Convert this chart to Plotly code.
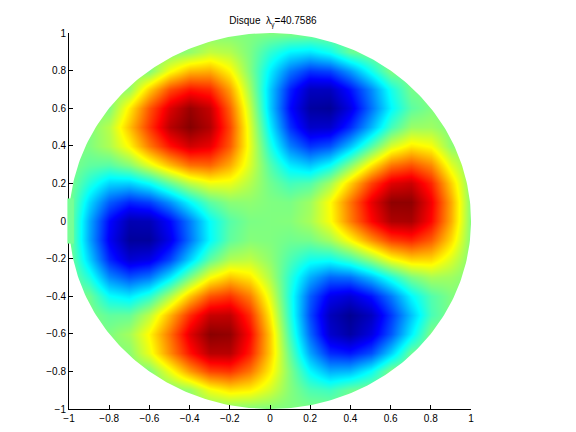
import numpy as np
import plotly.graph_objects as go

TITLE = "Disque  λ<sub>γ</sub>=40.7586"

x_grid = [-1.0, -0.9, -0.8, -0.7, -0.6, -0.5, -0.4, -0.3, -0.2, -0.1, 0.0,
          0.1, 0.2, 0.3, 0.4, 0.5, 0.6, 0.7, 0.8, 0.9, 1.0]
y_grid = list(x_grid)

# values, bottom row (y=-1) first
z_rows = [
    [0, 0, 0, 0, 0, 0, 0, 0, 0, 0, 0, 0, 0, 0, 0, 0, 0, 0, 0, 0, 0],
    [0, 0, 0, 0, 0, 0, .05, .22, .30, .27, .16, .01, -.10, -.13, -.04, 0, 0, 0, 0, 0, 0],
    [0, 0, 0, 0, 0, .22, .45, .62, .65, .52, .28, 0, -.26, -.41, -.39, -.24, 0, 0, 0, 0, 0],
    [0, 0, 0, .02, .21, .48, .72, .89, .89, .69, .35, -.06, -.43, -.67, -.71, -.60, -.34, -.04, 0, 0, 0],
    [0, 0, 0, .07, .26, .53, .81, .98, .96, .74, .35, -.13, -.55, -.86, -.95, -.82, -.58, -.28, 0, 0, 0],
    [0, 0, -.06, -.05, .12, .40, .67, .86, .87, .66, .28, -.18, -.61, -.90, -.99, -.89, -.64, -.37, -.11, 0, 0],
    [0, -.03, -.24, -.29, -.17, .09, .37, .59, .65, .50, .19, -.20, -.57, -.79, -.84, -.72, -.51, -.26, -.09, 0, 0],
    [0, -.19, -.48, -.59, -.52, -.29, -.01, .24, .36, .29, .09, -.17, -.41, -.55, -.53, -.38, -.19, -.01, .08, .06, 0],
    [0, -.34, -.68, -.85, -.81, -.62, -.34, -.07, .09, .12, .03, -.10, -.21, -.22, -.12, .05, .24, .34, .33, .18, 0],
    [0, -.42, -.77, -.97, -.97, -.79, -.52, -.25, -.06, .01, 0, -.03, -.02, .07, .25, .46, .63, .68, .57, .32, 0],
    [0, -.41, -.74, -.92, -.91, -.74, -.50, -.24, -.08, -.01, 0, .01, .08, .24, .50, .74, .91, .92, .74, .41, 0],
    [0, -.32, -.57, -.68, -.63, -.46, -.25, -.07, .02, .03, 0, -.01, .06, .25, .52, .79, .97, .97, .77, .42, 0],
    [0, -.18, -.33, -.34, -.24, -.05, .12, .22, .21, .10, -.03, -.12, -.09, .07, .34, .62, .81, .85, .68, .34, 0],
    [0, -.06, -.08, .01, .19, .38, .53, .55, .41, .17, -.09, -.29, -.36, -.24, .01, .29, .52, .59, .48, .19, 0],
    [0, 0, .09, .26, .51, .72, .84, .79, .57, .20, -.19, -.50, -.65, -.59, -.37, -.09, .17, .29, .24, .03, 0],
    [0, 0, .11, .37, .64, .89, .99, .90, .61, .18, -.28, -.66, -.87, -.86, -.67, -.40, -.12, .05, .06, 0, 0],
    [0, 0, 0, .28, .58, .82, .95, .86, .55, .13, -.35, -.74, -.96, -.98, -.81, -.53, -.26, -.07, 0, 0, 0],
    [0, 0, 0, .04, .34, .60, .71, .67, .43, .06, -.35, -.69, -.89, -.89, -.72, -.48, -.21, -.02, 0, 0, 0],
    [0, 0, 0, 0, 0, .24, .39, .41, .26, 0, -.28, -.52, -.65, -.62, -.45, -.22, 0, 0, 0, 0, 0],
    [0, 0, 0, 0, 0, 0, .04, .13, .10, -.01, -.16, -.27, -.30, -.22, -.05, 0, 0, 0, 0, 0, 0],
    [0, 0, 0, 0, 0, 0, 0, 0, 0, 0, 0, 0, 0, 0, 0, 0, 0, 0, 0, 0, 0],
]

tick_vals = [-1, -0.8, -0.6, -0.4, -0.2, 0, 0.2, 0.4, 0.6, 0.8, 1]
tick_text = ["−1", "−0.8", "−0.6", "−0.4", "−0.2", "0", "0.2", "0.4", "0.6", "0.8", "1"]

# matlab jet
JET = [
    [0.0, "rgb(0,0,143)"],
    [0.125, "rgb(0,0,255)"],
    [0.375, "rgb(0,255,255)"],
    [0.625, "rgb(255,255,0)"],
    [0.875, "rgb(255,0,0)"],
    [1.0, "rgb(128,0,0)"],
]

fig = go.Figure()
fig.add_trace(go.Heatmap(
    x=x_grid, y=y_grid, z=z_rows,
    colorscale=JET, zmin=-1, zmax=1,
    zsmooth="best", showscale=False, hoverinfo="skip",
))

# white ring so only the unit disc shows: outer square clockwise, circle the other way
t = np.linspace(0, 2 * np.pi, 361)
mask_x = [1.1, 1.1, -1.1, -1.1, 1.1, 1.1] + np.cos(t).tolist() + [1.1]
mask_y = [0, -1.1, -1.1, 1.1, 1.1, 0] + np.sin(t).tolist() + [0]
fig.add_trace(go.Scatter(
    x=mask_x, y=mask_y, mode="lines", line=dict(width=0),
    fill="toself", fillcolor="white", hoverinfo="skip", showlegend=False,
))

axis_style = dict(
    range=[-1, 1], tickmode="array", tickvals=tick_vals, ticktext=tick_text,
    ticks="inside", ticklen=4, tickwidth=1, tickcolor="black",
    showline=True, linecolor="black", linewidth=1,
    showgrid=False, zeroline=False, automargin=False,
    tickfont=dict(family="Liberation Sans", size=10, color="black"),
)
fig.update_xaxes(**axis_style)
fig.update_yaxes(**axis_style)

# the disc sits on top of the left axis line where it touches it
fig.add_shape(
    type="rect", xref="paper", yref="y", x0=-0.004, x1=0.012, y0=-0.12, y1=0.12,
    fillcolor="rgb(120,255,150)", line=dict(width=0), layer="above",
)

fig.update_layout(
    width=576, height=432,
    margin=dict(l=60.5, r=113, t=25, b=31),
    paper_bgcolor="white", plot_bgcolor="white",
    showlegend=False,
    title=dict(
        text=TITLE, x=0.46, xanchor="center", y=0.97, yanchor="middle",
        font=dict(family="Liberation Sans", size=10, color="black"),
    ),
)

fig.write_html("out.html")
